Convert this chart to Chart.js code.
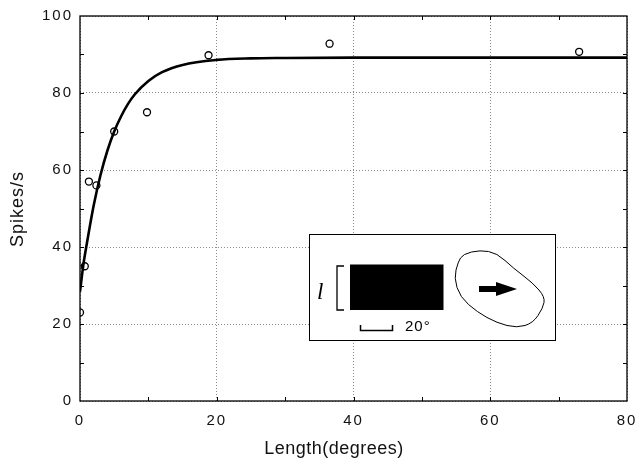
<!DOCTYPE html>
<html>
<head>
<meta charset="utf-8">
<script src="https://cdn.jsdelivr.net/npm/chart.js@4/dist/chart.umd.min.js"></script>
<style>
  html, body { margin: 0; padding: 0; background: #fff; }
</style>
</head>
<body>
<canvas id="chart" width="636" height="462"></canvas>
<script>
// measured responses (length in degrees, spikes/s)
const lengthDeg = [0, 0.7, 1.3, 2.4, 5, 9.8, 18.8, 36.5, 73];
const spikes = [23, 35, 57, 56, 70, 75, 89.8, 92.8, 90.7];

// fitted curve
const fitX = [0, 0.5, 1, 1.5, 2, 3, 4, 5, 6, 7, 8, 10, 12, 15, 20, 25, 30, 40, 60, 80];
const fitY = [28.4, 35.5, 40.9, 46, 50.8, 58.7, 65, 70, 73.9, 77.1, 79.6, 83.1, 85.4, 87.3, 88.6, 89, 89.1, 89.2, 89.2, 89.2];

const xTitle = 'Length(degrees)';
const yTitle = 'Spikes/s';

const tickFont = { family: "'Liberation Sans', Arial, sans-serif", size: 15 };

const points = lengthDeg.map((x, i) => ({ x: x, y: spikes[i] }));
const fit = fitX.map((x, i) => ({ x: x, y: fitY[i] }));

// frame, inward minor ticks, titles and the stimulus inset
const decor = {
  id: 'decor',
  beforeDraw(chart) {
    chart.ctx.letterSpacing = '2px';
  },
  beforeDatasetsDraw(chart) {
    const ctx = chart.ctx;
    ctx.save();
    ctx.letterSpacing = '0px';
    // inset box
    ctx.fillStyle = '#fff';
    ctx.fillRect(309.5, 234.5, 246, 106);
    ctx.strokeStyle = '#000';
    ctx.lineWidth = 1;
    ctx.strokeRect(309.5, 234.5, 246, 106);
    // bracket
    ctx.lineWidth = 1.3;
    ctx.beginPath();
    ctx.moveTo(344, 266);
    ctx.lineTo(337, 266);
    ctx.lineTo(337, 310);
    ctx.lineTo(344, 310);
    ctx.stroke();
    // bar stimulus
    ctx.fillStyle = '#000';
    ctx.fillRect(350, 264.5, 93.5, 45.5);
    // l label
    ctx.font = "italic 23px 'Liberation Serif', serif";
    ctx.fillText('l', 317, 299);
    // scale bar
    ctx.lineWidth = 1.5;
    ctx.beginPath();
    ctx.moveTo(360.5, 325);
    ctx.lineTo(360.5, 330.5);
    ctx.lineTo(392.5, 330.5);
    ctx.lineTo(392.5, 325);
    ctx.stroke();
    ctx.font = "15px 'Liberation Sans', Arial, sans-serif";
    ctx.letterSpacing = '1px';
    ctx.fillText('20°', 405, 331);
    ctx.letterSpacing = '0px';
    // receptive field outline
    const blob = [[463, 254], [480, 250], [497, 253], [513, 268], [533, 283], [545, 297],
      [543, 308], [533, 323], [517, 328], [497, 323], [477, 312], [460, 297], [454, 278], [458, 262]];
    ctx.lineWidth = 1;
    ctx.beginPath();
    const n = blob.length;
    const mid = (a, b) => [(a[0] + b[0]) / 2, (a[1] + b[1]) / 2];
    let m0 = mid(blob[n - 1], blob[0]);
    ctx.moveTo(m0[0], m0[1]);
    for (let i = 0; i < n; i++) {
      const p = blob[i];
      const m = mid(p, blob[(i + 1) % n]);
      ctx.quadraticCurveTo(p[0], p[1], m[0], m[1]);
    }
    ctx.closePath();
    ctx.stroke();
    // arrow
    ctx.fillRect(479, 286, 19, 6);
    ctx.beginPath();
    ctx.moveTo(496, 282);
    ctx.lineTo(517, 289);
    ctx.lineTo(496, 296);
    ctx.closePath();
    ctx.fill();
    ctx.restore();
  },
  afterDraw(chart) {
    const ctx = chart.ctx;
    const a = chart.chartArea;
    const xs = chart.scales.x;
    const ys = chart.scales.y;
    ctx.save();
    ctx.letterSpacing = '0px';
    ctx.strokeStyle = '#000';
    ctx.lineWidth = 1.3;
    ctx.strokeRect(a.left, a.top, a.right - a.left, a.bottom - a.top);
    ctx.lineWidth = 1;
    ctx.beginPath();
    for (let v = 10; v < 80; v += 10) {
      const px = Math.round(xs.getPixelForValue(v)) + 0.5;
      ctx.moveTo(px, a.bottom); ctx.lineTo(px, a.bottom - 4);
      ctx.moveTo(px, a.top); ctx.lineTo(px, a.top + 4);
    }
    for (let v = 10; v < 100; v += 10) {
      const py = Math.round(ys.getPixelForValue(v)) + 0.5;
      ctx.moveTo(a.left, py); ctx.lineTo(a.left + 4, py);
      ctx.moveTo(a.right, py); ctx.lineTo(a.right - 4, py);
    }
    ctx.stroke();

    ctx.fillStyle = '#111';
    ctx.font = "18px 'Liberation Sans', Arial, sans-serif";
    ctx.letterSpacing = '0.5px';
    ctx.textAlign = 'center';
    ctx.textBaseline = 'alphabetic';
    ctx.fillText(xTitle, 334, 454);
    ctx.letterSpacing = '1px';
    ctx.translate(23, 209);
    ctx.rotate(-Math.PI / 2);
    ctx.fillText(yTitle, 0, 0);
    ctx.restore();
  }
};

new Chart(document.getElementById('chart'), {
  type: 'scatter',
  data: {
    datasets: [{
      label: 'data',
      data: points,
      showLine: false,
      pointRadius: 3.5,
      pointBorderWidth: 1.3,
      pointBorderColor: '#000',
      pointBackgroundColor: 'rgba(0,0,0,0)',
    }, {
      label: 'fit',
      data: fit,
      showLine: true,
      borderColor: '#000',
      borderWidth: 2.6,
      pointRadius: 0,
      cubicInterpolationMode: 'monotone',
    }]
  },
  options: {
    responsive: false,
    animation: false,
    events: [],
    layout: { padding: { top: 16, right: 0, left: 0, bottom: 0 } },
    plugins: { legend: { display: false }, tooltip: { enabled: false } },
    scales: {
      x: {
        type: 'linear',
        min: 0,
        max: 80,
        afterFit: (s) => { s.height = 61; s.paddingRight = 9; },
        ticks: { stepSize: 20, padding: 11, color: '#111', font: tickFont, maxRotation: 0 },
        grid: { color: '#8a8a8a', lineWidth: 1, drawTicks: false },
        border: { display: false, dash: [1, 2] },
      },
      y: {
        min: 0,
        max: 100,
        afterFit: (s) => { s.width = 80; },
        ticks: { stepSize: 20, padding: 7, color: '#111', font: tickFont },
        grid: { color: '#8a8a8a', lineWidth: 1, drawTicks: false },
        border: { display: false, dash: [1, 2] },
      }
    }
  },
  plugins: [decor]
});
</script>
</body>
</html>
